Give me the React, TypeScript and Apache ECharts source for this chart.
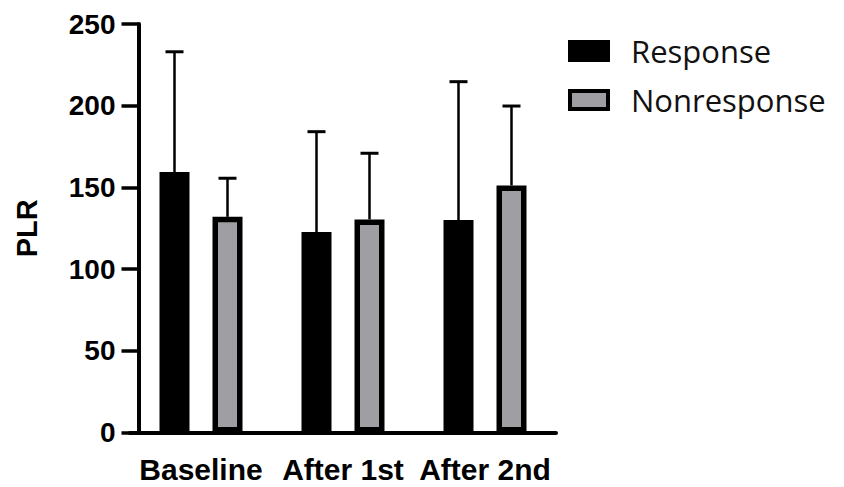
import React, { useEffect, useRef } from "react";
import * as echarts from "echarts";

const categories = ["Baseline", "After 1st", "After 2nd"];
const seriesNames = ["Response", "Nonresponse"];
const responseMean = [159.4, 122.7, 130.0];
const responseSD = [73.6, 61.4, 84.7];
const nonresponseMean = [132.0, 130.4, 151.2];
const nonresponseSD = [23.6, 40.5, 48.6];
const yTicks = { min: 0, max: 250, interval: 50 };
const yAxisTitle = "PLR";

const BAR_W = 30;
const BAR_BORDER = 5.5;
const BAR_GAP_PX = 23;
const GRAY = "#9e9ea3";
const AXIS_FONT = "'Liberation Sans', Arial, sans-serif";

function errorSeries(name: string, means: number[], sds: number[], side: number) {
  const data = means.map((m, i) => [i, m, m + sds[i]]);
  const offset = side * (BAR_W + BAR_GAP_PX) / 2;
  return {
    type: "custom",
    name: name + " SD",
    z: 1,
    silent: true,
    data,
    encode: { x: 0, y: [1, 2] },
    renderItem: (params: any, api: any) => {
      const base = api.coord([api.value(0), api.value(1)]);
      const top = api.coord([api.value(0), api.value(2)]);
      const x = base[0] + offset;
      const capHalf = 9;
      return {
        type: "group",
        children: [
          {
            type: "line",
            shape: { x1: x, y1: base[1], x2: x, y2: top[1] },
            style: { stroke: "#000", lineWidth: 2.5 },
          },
          {
            type: "line",
            shape: { x1: x - capHalf, y1: top[1], x2: x + capHalf, y2: top[1] },
            style: { stroke: "#000", lineWidth: 3 },
          },
        ],
      };
    },
  };
}

export default function App() {
  const ref = useRef<HTMLDivElement>(null);
  useEffect(() => {
    if (!ref.current) return;
    const chart = echarts.init(ref.current, null, { renderer: "svg" });
    chart.setOption({
      animation: false,
      backgroundColor: "#fff",
      legend: {
        orient: "vertical",
        left: 563,
        top: 30,
        itemWidth: 38,
        itemHeight: 18,
        itemGap: 17,
        icon: "rect",
        textStyle: {
          fontFamily: "'Open Sans', 'Noto Sans', sans-serif",
          fontSize: 31,
          lineHeight: 32,
          color: "#111",
          padding: [0, 0, 0, 18],
        },
        data: [
          { name: seriesNames[0], itemStyle: { color: "#000", borderColor: "#000", borderWidth: 4 } },
          { name: seriesNames[1], itemStyle: { color: GRAY, borderColor: "#000", borderWidth: 4 } },
        ],
      },
      grid: { left: 130, top: 24, width: 426, height: 408.5 },
      xAxis: {
        type: "category",
        data: categories,
        axisLine: { lineStyle: { color: "#000", width: 4 } },
        axisTick: { alignWithLabel: true, length: 15, lineStyle: { color: "#000", width: 3.5 } },
        axisLabel: {
          interval: 0,
          hideOverlap: false,
          color: "#000",
          fontFamily: AXIS_FONT,
          fontWeight: "bold",
          fontSize: 30,
          margin: 22,
        },
      },
      yAxis: {
        type: "value",
        min: yTicks.min,
        max: yTicks.max,
        interval: yTicks.interval,
        offset: -8.5,
        name: yAxisTitle,
        nameLocation: "middle",
        nameRotate: 90,
        nameGap: 97,
        nameTextStyle: {
          color: "#000",
          fontFamily: AXIS_FONT,
          fontWeight: "bold",
          fontSize: 29,
        },
        splitLine: { show: false },
        axisLine: { show: true, lineStyle: { color: "#000", width: 4 } },
        axisTick: { show: true, length: 17, lineStyle: { color: "#000", width: 3.5 } },
        axisLabel: {
          color: "#000",
          fontFamily: AXIS_FONT,
          fontWeight: "bold",
          fontSize: 28,
          margin: 23,
        },
      },
      series: [
        {
          type: "bar",
          name: seriesNames[0],
          data: responseMean,
          barWidth: BAR_W,
          barGap: (BAR_GAP_PX / BAR_W) * 100 + "%",
          z: 2,
          itemStyle: { color: "#000", borderColor: "#000", borderWidth: BAR_BORDER },
        },
        {
          type: "bar",
          name: seriesNames[1],
          data: nonresponseMean,
          barWidth: BAR_W,
          barGap: (BAR_GAP_PX / BAR_W) * 100 + "%",
          z: 2,
          itemStyle: { color: GRAY, borderColor: "#000", borderWidth: BAR_BORDER },
        },
        errorSeries(seriesNames[0], responseMean, responseSD, -1),
        errorSeries(seriesNames[1], nonresponseMean, nonresponseSD, 1),
      ],
    });
    return () => chart.dispose();
  }, []);
  return (
    <div
      ref={ref}
      style={{ position: "absolute", left: 0, top: 0, width: 844, height: 487 }}
    />
  );
}
